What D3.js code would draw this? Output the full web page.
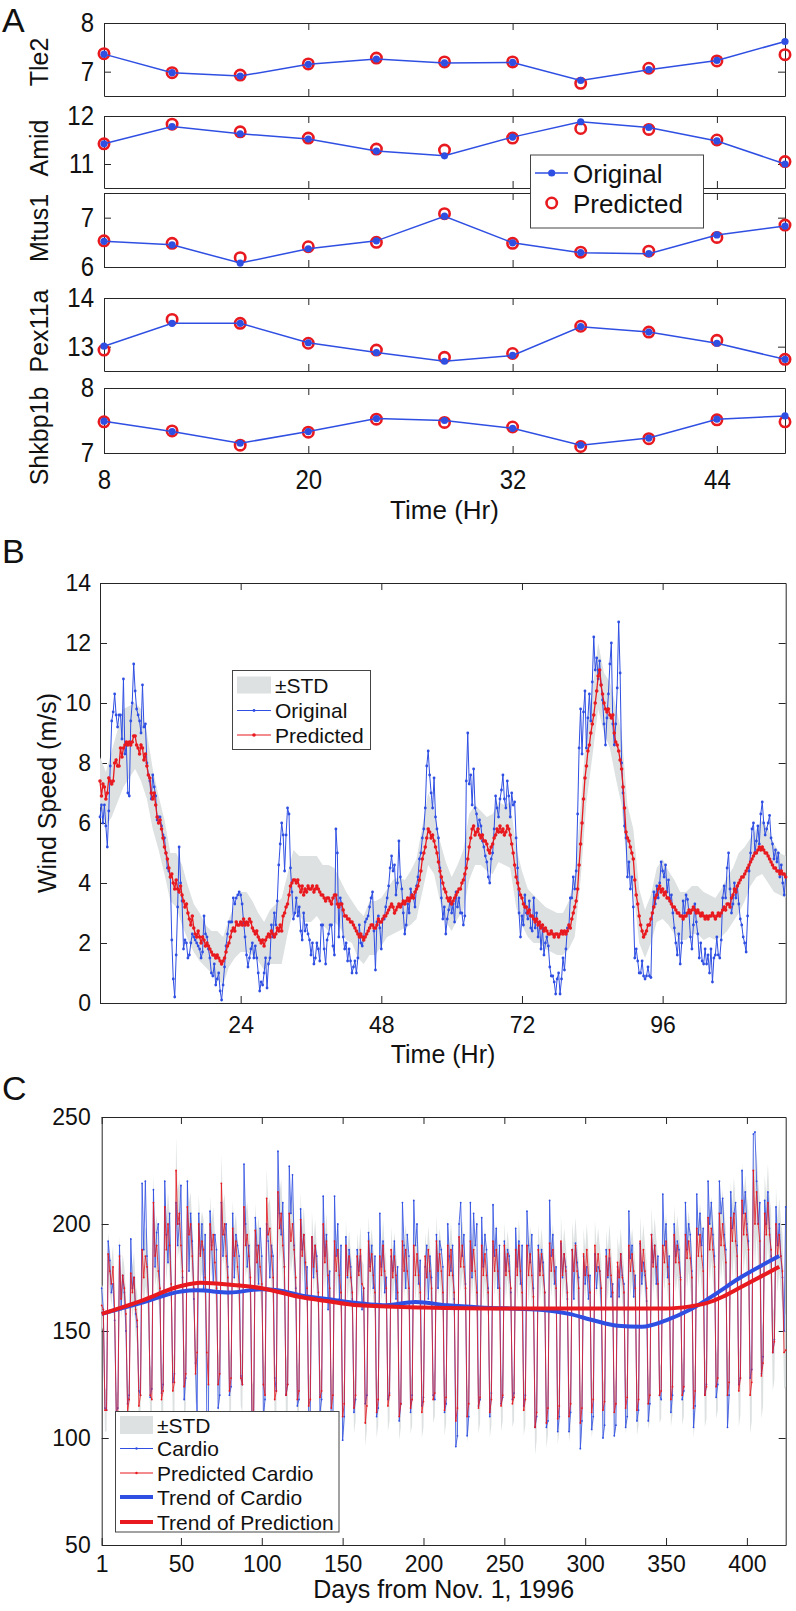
<!DOCTYPE html>
<html>
<head>
<meta charset="utf-8">
<script src="https://cdn.jsdelivr.net/npm/d3@7"></script>
<style>
  body { margin: 0; background: #fff; }
  text { font-family: "Liberation Sans", Arial, Helvetica, sans-serif; fill: #111; }
</style>
</head>
<body>
<svg id="fig" width="796" height="1611"></svg>
<script>
// ---- panel A: gene expression (11 time points) ----
const geneHours = [8, 12, 16, 20, 24, 28, 32, 36, 40, 44, 48];
const geneHourTicks = [8, 20, 32, 44];
const geneNames = ["Tle2", "Amid", "Mtus1", "Pex11a", "Shkbp1b"];
const geneYTicks = [[7, 8], [11, 12], [6, 7], [13, 14], [7, 8]];
const tle2Original = [7.36, 6.98, 6.91, 7.15, 7.26, 7.18, 7.19, 6.82, 7.04, 7.23, 7.62];
const tle2Predicted = [7.37, 6.98, 6.93, 7.16, 7.28, 7.20, 7.20, 6.76, 7.07, 7.22, 7.35];
const amidOriginal = [11.42, 11.78, 11.63, 11.52, 11.27, 11.17, 11.56, 11.88, 11.76, 11.48, 11.00];
const amidPredicted = [11.42, 11.83, 11.67, 11.54, 11.31, 11.29, 11.54, 11.74, 11.72, 11.50, 11.05];
const mtus1Original = [6.52, 6.45, 6.08, 6.37, 6.53, 7.03, 6.49, 6.29, 6.27, 6.65, 6.83];
const mtus1Predicted = [6.53, 6.48, 6.19, 6.41, 6.50, 7.08, 6.48, 6.30, 6.32, 6.60, 6.85];
const pex11aOriginal = [13.01, 13.48, 13.48, 13.08, 12.88, 12.70, 12.82, 13.41, 13.30, 13.07, 12.74];
const pex11aPredicted = [12.93, 13.56, 13.48, 13.07, 12.93, 12.78, 12.86, 13.42, 13.30, 13.13, 12.74];
const shkbp1bOriginal = [7.49, 7.33, 7.15, 7.33, 7.53, 7.50, 7.38, 7.12, 7.23, 7.52, 7.57];
const shkbp1bPredicted = [7.48, 7.34, 7.12, 7.32, 7.52, 7.47, 7.40, 7.10, 7.22, 7.51, 7.48];

// ---- panel B: wind speed, one value every 15 min from hour 0 ----
const windStep = 0.25;
const windTicks = [24, 48, 72, 96];
const windYTicks = [0, 2, 4, 6, 8, 10, 12, 14];
const windOriginal = [
  6.2,6.6,6.0,6.6, 5.9,5.2,6.4,7.9, 9.4,9.7,10.3,9.6, 9.2,9.6,9.6,8.8, 10.8,8.3,8.6,7.0, 6.9,9.4,10.0,11.3,
  10.4,9.8,9.6,9.4, 9.0,10.6,9.2,9.3, 8.0,7.6,7.4,6.8, 7.6,7.2,6.9,6.1, 6.2,6.2,5.9,5.6, 5.5,5.0,4.5,4.4,
  4.2,2.1,0.8,0.2, 1.6,3.2,5.2,4.0, 3.4,1.8,2.1,2.0, 1.5,1.6,2.0,2.3, 2.2,2.1,2.0,1.9, 1.8,1.5,1.7,2.9,
  2.3,2.2,1.8,1.5, 1.0,0.9,1.3,0.6, 0.8,1.0,0.4,0.1, 0.6,1.2,1.9,2.3, 2.7,2.7,2.7,3.5, 3.3,3.5,3.6,3.7,
  3.6,3.3,2.7,2.2, 1.6,1.2,1.5,1.8, 2.0,1.5,1.9,1.5, 1.0,0.4,0.7,0.6, 1.0,1.5,0.5,1.3, 1.5,2.6,2.2,3.0,
  2.6,3.4,4.6,5.3, 6.0,5.6,4.4,5.6, 6.5,6.3,4.5,3.7, 2.8,3.0,3.5,2.9, 3.2,2.4,2.1,3.0, 2.4,2.6,2.3,2.1,
  1.6,2.0,1.3,1.5, 2.0,1.8,1.4,2.6, 2.6,1.8,1.3,2.1, 2.3,2.6,2.6,1.9, 1.6,5.8,5.0,2.2, 3.5,3.3,2.2,1.8,
  2.0,1.4,1.8,1.4, 1.0,1.2,1.4,1.0, 1.5,2.6,2.0,1.9, 2.2,2.7,2.8,2.9, 3.2,3.5,3.7,2.4, 1.1,2.7,2.9,2.5,
  1.8,2.8,2.8,3.2, 3.5,3.9,4.5,4.9, 4.4,4.6,3.6,4.0, 5.4,4.2,3.8,3.0, 2.3,2.6,3.3,3.0, 3.8,3.6,3.5,3.2,
  3.9,4.2,4.8,5.0, 5.5,5.8,6.5,7.9, 8.4,7.6,7.0,6.5, 7.5,6.2,5.8,5.5, 4.5,3.5,2.8,3.2, 2.3,2.8,3.1,3.5,
  3.0,3.3,2.7,3.7, 3.2,3.5,3.0,3.0, 2.6,2.9,7.4,9.0, 7.3,7.6,6.6,7.8, 6.5,6.3,5.8,6.1, 5.9,5.4,5.2,4.9,
  4.7,4.2,4.0,4.8, 5.0,5.8,6.9,6.5, 6.2,6.8,7.1,7.6, 6.8,6.5,7.4,6.9, 6.2,7.0,6.6,6.7, 5.5,4.5,3.0,2.2,
  2.9,2.6,3.6,3.0, 2.8,3.4,2.5,2.4, 3.5,2.5,3.0,2.2, 2.6,1.8,2.5,1.6, 2.0,2.2,1.9,1.2, 0.9,0.9,0.7,0.3,
  0.8,1.0,0.3,0.8, 1.5,1.1,1.8,2.5, 2.5,3.5,3.5,4.2, 3.8,4.4,6.3,8.5, 9.8,8.3,9.7,10.4, 8.5,9.5,10.3,9.4,
  10.7,12.2,11.1,11.5, 10.8,11.4,10.6,10.1, 9.3,8.6,9.5,10.3, 11.3,12.0,9.3,8.6, 9.3,10.5,12.7,11.0, 8.0,7.0,5.9,5.5,
  4.2,4.7,3.8,4.2, 3.2,1.5,1.8,1.4, 1.0,1.0,1.4,0.9, 0.8,0.9,1.2,0.9, 0.85,3.0,3.7,3.3, 3.9,3.5,4.0,4.7,
  4.4,4.2,4.6,3.7, 4.1,3.4,3.6,3.0, 2.5,2.0,1.6,2.3, 1.3,2.0,3.4,3.0, 3.6,3.45,3.0,2.2, 1.8,2.6,3.3,2.7,
  2.3,1.5,2.0,1.4, 1.3,1.8,1.3,1.6, 1.0,1.8,0.7,1.5, 1.6,2.2,1.6,1.5, 2.1,3.5,3.9,3.5, 4.5,5.0,3.8,3.0,
  3.3,4.0,3.5,3.9, 3.3,2.8,2.6,2.2, 2.0,1.7,2.9,4.4, 5.0,5.8,6.0,5.0, 5.4,5.9,5.3,6.3, 6.7,6.0,5.6,5.8,
  6.0,6.25,5.5,5.3, 4.8,5.1,4.7,5.0, 4.2,4.6,4.0,3.6,
  4.2
];
const windPredicted = [
  7.4,6.9,7.3,7.2, 6.8,7.0,7.5,7.4, 7.3,7.4,8.0,8.1, 7.9,7.9,8.5,8.2, 8.5,8.6,8.7,8.6, 8.7,8.6,8.7,8.9,
  8.9,8.6,8.5,8.3, 8.6,8.5,8.1,8.3, 7.9,7.6,7.5,7.0, 6.8,7.0,6.6,6.2, 6.0,6.1,5.8,5.5, 5.2,5.0,4.8,4.5,
  4.2,4.3,4.0,3.8, 4.1,3.8,3.7,3.9, 3.6,3.4,3.2,3.3, 3.0,2.8,2.6,2.9, 2.5,2.3,2.2,2.4, 2.2,2.0,2.2,2.1,
  1.9,2.0,1.9,1.8, 1.7,1.6,1.6,1.5, 1.6,1.5,1.4,1.3, 1.4,1.5,1.7,1.9, 2.0,2.2,2.4,2.5, 2.4,2.7,2.6,2.6,
  2.7,2.6,2.8,2.6, 2.7,2.6,2.8,2.7, 2.5,2.4,2.3,2.4, 2.2,2.1,2.0,2.1, 1.9,2.1,2.2,2.3, 2.2,2.4,2.3,2.2,
  2.3,2.5,2.4,2.6, 2.4,2.9,3.0,3.2, 3.3,3.6,3.9,4.0, 4.1,4.1,4.0,4.1, 3.9,3.7,3.9,3.6, 3.8,3.7,3.9,3.8,
  3.8,3.9,3.7,3.8, 3.9,3.8,3.7,3.6, 3.6,3.5,3.4,3.5, 3.5,3.4,3.3,3.5, 3.6,3.6,3.3,3.2, 3.3,3.3,3.1,2.9,
  2.9,2.8,2.8,2.7, 2.7,2.6,2.5,2.4, 2.3,2.2,2.3,2.2, 2.1,2.2,2.3,2.4, 2.5,2.6,2.6,2.5, 2.5,2.6,2.8,2.7,
  2.7,2.8,2.9,2.9, 3.0,3.1,3.2,3.3, 3.2,3.0,3.1,3.2, 3.3,3.2,3.3,3.4, 3.3,3.4,3.5,3.4, 3.5,3.6,3.5,3.7,
  3.8,3.9,4.1,4.4, 4.8,5.0,5.2,5.5, 5.8,5.7,5.5,5.6, 5.4,5.2,5.0,4.7, 4.4,4.2,4.0,3.8, 3.7,3.5,3.4,3.5,
  3.3,3.4,3.5,3.6, 3.7,3.8,3.8,4.0, 4.1,4.3,4.5,4.8, 5.2,5.5,5.8,5.9, 5.6,5.7,5.8,5.6, 5.5,5.6,5.4,5.4,
  5.3,5.1,5.0,5.2, 5.3,5.5,5.6,5.8, 5.7,5.9,5.7,5.8, 5.6,5.7,5.9,5.8, 5.6,5.3,5.0,4.6, 4.2,4.0,3.8,3.6,
  3.5,3.3,3.2,3.2, 3.0,3.1,2.9,2.9, 2.8,2.7,2.8,2.6, 2.7,2.5,2.6,2.4, 2.5,2.4,2.3,2.3, 2.4,2.3,2.2,2.3,
  2.3,2.2,2.3,2.4, 2.3,2.4,2.3,2.4, 2.6,2.5,2.8,3.0, 3.2,3.4,3.8,4.6, 5.3,6.0,6.8,7.5, 7.9,8.4,8.6,9.0,
  9.3,9.6,10.0,10.4, 10.9,11.1,10.6,10.3, 10.0,9.8,9.7,9.8, 9.6,9.5,9.6,9.0, 8.7,8.6,8.4,8.1, 7.8,7.2,6.5,5.7,
  5.5,5.4,5.2,5.0, 4.8,4.1,3.6,3.3, 2.9,2.6,2.4,2.2, 2.3,2.4,2.6,2.6, 2.8,3.0,3.2,3.5, 3.6,3.8,3.9,3.7,
  3.8,3.6,3.7,3.5, 3.5,3.4,3.3,3.2, 3.2,3.1,3.0,3.0, 2.9,2.9,2.8,2.9, 2.9,3.0,3.1,3.0, 3.1,3.2,3.1,3.0,
  3.1,3.0,2.9,3.0, 2.9,2.8,2.9,2.8, 2.9,2.9,3.0,2.9, 2.8,2.9,3.0,2.9, 3.0,3.1,3.2,3.1, 3.3,3.3,3.2,3.5,
  3.6,3.8,3.7,3.9, 4.0,4.1,4.2,4.2, 4.3,4.4,4.5,4.6, 4.7,4.8,4.9,5.0, 5.0,5.1,5.2,5.1, 5.2,5.1,5.0,5.0,
  4.9,4.8,4.7,4.6, 4.5,4.5,4.4,4.4, 4.3,4.4,4.3,4.3,
  4.2
];
// spread of the prediction, one value per hour
const windStd = [
  0.8,0.9,1.1,1.2,1.3,1.2,1.1,1.2,1.1,1.0,0.9,
  0.9,0.8,0.9,1.0,0.9,0.8,0.8,0.7,0.7,0.8,
  0.8,0.8,0.9,1.0,1.0,0.9,0.8,0.8,0.9,1.0,
  1.1,1.0,1.0,1.0,1.1,1.1,1.0,1.0,1.1,0.9,
  0.8,0.8,0.7,0.8,0.8,0.9,0.9,0.8,0.8,0.9,
  0.9,0.8,0.9,1.0,1.1,1.2,1.1,1.0,1.0,0.9,
  0.9,1.0,1.1,1.0,0.9,0.9,1.0,1.0,1.0,1.1,
  1.0,0.9,0.8,0.8,0.7,0.7,0.7,0.7,0.7,0.8,
  1.0,1.2,1.2,1.1,1.1,1.0,1.1,1.2,1.2,1.1,
  1.0,0.9,0.8,0.8,0.9,1.0,0.9,0.9,0.8,0.8,
  0.8,0.8,0.8,0.7,0.7,0.8,0.9,0.9,1.0,0.9,
  0.8,0.8,0.9,0.9,0.8,0.7,0.7
];

// ---- panel C: daily cardio counts, day 1 .. 424 ----
const cardioXTicks = [1, 50, 100, 150, 200, 250, 300, 350, 400];
const cardioYTicks = [50, 100, 150, 200, 250];
const cardioOriginal = [
  170,160,114,113,
  192,183,168,172,155,112,114, 190,160,176,168,150,116,120, 193,170,175,158,152,122,120,
  219,188,220,185,165,119,123, 216,180,196,200,168,121,125, 220,195,182,205,170,126,130,
  210,190,200,218,175,118,128, 220,178,205,192,165,135,110, 205,186,200,170,195,108,112,
  206,190,172,195,188,114,120, 210,185,195,200,180,120,124, 205,175,195,190,185,129,125,
  228,200,180,190,170,100,110, 203,190,172,198,185,110,118, 200,192,175,190,185,128,122,
  234,205,195,210,180,120,125, 227,205,223,190,170,115,118, 207,188,195,165,180,110,112,
  194,175,190,185,165,112,118, 213,185,195,160,178,99,105,  213,185,200,165,190,99,110,
  194,175,188,180,165,112,118, 188,178,185,160,170,116,120, 196,180,190,170,185,110,114,
  205,180,192,168,175,118,121, 185,178,192,165,180,108,116, 210,190,170,195,185,112,120,
  211,190,200,172,183,115,119, 180,190,165,185,175,120,118, 195,170,192,188,180,112,116,
  200,185,178,190,165,96,101,  200,210,185,195,172,101,110, 210,175,205,190,200,115,118,
  203,180,195,188,170,110,121, 209,185,198,170,190,116,119, 192,178,188,185,168,118,121,
  198,180,192,172,190,115,120, 206,190,182,195,170,105,110, 190,178,188,182,168,105,108,
  211,185,195,172,180,103,110, 191,175,186,180,165,103,112, 188,165,191,182,175,95,108,
  185,172,180,165,176,104,110, 186,170,180,178,160,100,106, 188,175,184,166,172,101,106,
  180,166,186,176,172,105,110, 206,184,190,166,176,108,113, 191,172,182,176,164,108,116,
  195,182,190,172,185,120,118, 214,190,200,175,185,112,120, 200,185,192,188,175,118,122,
  210,188,200,195,178,105,115, 214,195,205,190,198,120,125, 220,200,210,195,185,119,125,
  220,205,212,195,188,105,120, 215,198,205,210,190,125,128, 225,205,215,200,192,128,132,
  242,243,220,200,210,130,138, 211,200,215,198,185,140,146, 208,190,200,185,175,150,208
];
const cardioPredicted = [
  162,160,113,113,
  186,178,172,180,160,111,112, 185,165,176,170,158,112,118, 177,168,175,160,155,115,120,
  188,175,185,180,165,120,118, 210,185,190,178,170,118,122, 208,188,200,190,172,122,126,
  225,200,205,190,178,124,130, 208,195,200,185,170,130,140, 200,185,192,188,175,140,125,
  200,188,195,182,170,125,130, 219,195,200,185,175,122,128, 198,185,192,180,172,128,125,
  208,190,195,185,175,110,112, 197,182,190,180,172,125,120, 212,195,198,185,175,118,122,
  215,198,205,190,180,120,125, 205,192,200,188,175,118,122, 202,185,195,182,170,115,118,
  194,180,190,178,168,119,122, 200,182,192,176,170,114,120, 192,178,188,176,168,110,116,
  190,176,185,175,168,114,120, 185,176,188,172,170,107,115, 192,178,186,176,168,112,118,
  185,176,190,178,170,115,120, 188,175,185,176,168,110,116, 192,178,188,178,170,114,118,
  190,176,186,176,168,112,117, 185,175,188,178,170,118,121, 192,178,186,178,168,113,119,
  190,176,188,176,168,108,114, 194,180,190,180,170,110,116, 192,178,188,178,168,114,119,
  190,176,186,176,168,112,118, 192,178,188,178,170,115,120, 190,176,186,178,170,116,119,
  188,176,190,178,168,113,118, 190,176,186,176,166,105,112, 188,176,186,176,168,107,114,
  191,178,188,178,170,109,115, 192,176,186,178,168,110,116, 188,178,190,178,170,107,114,
  186,176,188,176,168,112,118, 190,178,186,178,170,113,117, 185,176,188,176,168,112,116,
  182,175,186,175,168,114,119, 190,178,186,178,170,113,118, 192,178,188,178,170,116,120,
  195,180,190,180,172,120,122, 190,182,192,180,172,118,124, 195,182,190,182,174,120,124,
  195,184,192,184,175,114,122, 198,185,195,185,178,120,124, 203,188,198,188,180,124,128,
  205,190,200,190,182,120,126, 203,192,205,192,185,122,128, 211,195,205,195,188,120,126,
  225,200,215,200,192,129,135, 205,195,210,195,188,140,145, 200,185,195,185,178,140,141
];
// spread of the prediction: first partial week, then one value per week
const cardioStd = [10,10,10,12,14,14,15,16,15,14, 13,14,13,15,13,14,16,15,13,12,
  13,12,12,11,12,12,11,12,12,11, 12,13,12,12,12,12,11,12,13,12,
  12,12,13,12,12,12,12,12,12,13, 13,14,14,15,15,16,17,18,20,18, 17];
const trendCardioDays = [1, 25, 50, 60, 80, 100, 110, 125, 140, 160, 175, 195, 215, 235, 270, 290, 305, 320, 335, 350, 365, 380, 395, 420];
const trendCardioValues = [158, 163, 168.5, 169, 168, 169.5, 169, 166.5, 165, 163, 162, 163.5, 162, 161, 160, 158, 155, 152.5, 152, 155, 160, 167, 174.5, 185];
const trendPredDays = [1, 25, 50, 62, 82, 100, 123, 140, 160, 200, 250, 300, 350, 365, 375, 385, 395, 420];
const trendPredValues = [158, 164, 171, 172.5, 171.5, 170, 166, 164, 162, 161, 160.5, 160.5, 160.5, 161.5, 163, 166, 170, 180];

// ---------------------------------------------------------------------------
const BLUE = "#2f4fe3", RED = "#e8191f", BAND = "#dde1e1", AX = "#262626";
const svg = d3.select("#fig");
const intFmt = d3.format("d");

function styleAxis(sel, fs, stretch) {
  sel.select(".domain").attr("stroke", AX);
  sel.selectAll(".tick line").attr("stroke", AX);
  const t = sel.selectAll("text").attr("font-family", null).attr("font-size", fs).attr("fill", "#111");
  if (stretch) t.attr("transform", `scale(1,${stretch})`);
}

// box with inward ticks on all four sides (matlab style)
function frame(g, x, y, xTicks, yTicks, o) {
  const [xl, xr] = x.range(), [yb, yt] = y.range();
  const bottom = d3.axisBottom(x).tickValues(xTicks).tickSize(-o.tick).tickSizeOuter(0)
    .tickPadding(o.padX).tickFormat(o.xLabels ? intFmt : "");
  g.append("g").attr("transform", `translate(0,${yb})`).call(bottom).call(styleAxis, o.fs, o.stretch);
  g.append("g").attr("transform", `translate(0,${yt})`)
    .call(d3.axisTop(x).tickValues(xTicks).tickSize(-o.tick).tickSizeOuter(0).tickFormat(""))
    .call(styleAxis, o.fs);
  g.append("g").attr("transform", `translate(${xl},0)`)
    .call(d3.axisLeft(y).tickValues(yTicks).tickSize(-o.tick).tickSizeOuter(0)
      .tickPadding(o.padY).tickFormat(intFmt))
    .call(styleAxis, o.fs, o.stretch);
  g.append("g").attr("transform", `translate(${xr},0)`)
    .call(d3.axisRight(y).tickValues(yTicks).tickSize(-o.tick).tickSizeOuter(0).tickFormat(""))
    .call(styleAxis, o.fs);
}

function label(txt, x, y, fs, opt = {}) {
  const t = svg.append("text").attr("font-size", fs).text(txt)
    .attr("text-anchor", opt.anchor || "start");
  if (opt.rotate) t.attr("transform", `translate(${x},${y}) rotate(-90)`);
  else t.attr("x", x).attr("y", y);
  return t;
}

// ========================= A =========================
label("A", 2, 32, 34);
const xA = d3.scaleLinear().domain([8, 48]).range([104, 785]);
// label centres follow the picture (the last label hangs below its box)
const rowsA = [
  { orig: tle2Original, pred: tle2Predicted, dom: [6.5, 8], top: 23, bot: 96, lab: 62 },
  { orig: amidOriginal, pred: amidPredicted, dom: [10.5, 12], top: 116, bot: 188, lab: 148 },
  { orig: mtus1Original, pred: mtus1Predicted, dom: [6, 7.5], top: 193, bot: 267, lab: 228 },
  { orig: pex11aOriginal, pred: pex11aPredicted, dom: [12.5, 14], top: 298, bot: 371, lab: 331 },
  { orig: shkbp1bOriginal, pred: shkbp1bPredicted, dom: [7, 8], top: 388, bot: 453, lab: 436 }
];
rowsA.forEach((r, k) => {
  const y = d3.scaleLinear().domain(r.dom).range([r.bot, r.top]);
  const g = svg.append("g");
  frame(g, xA, y, geneHourTicks, geneYTicks[k],
    { tick: 7, fs: 24, stretch: 1.12, padX: 15, padY: 10, xLabels: k === rowsA.length - 1 });
  label(geneNames[k], 48, r.lab, 25, { rotate: true, anchor: "middle" });

  g.selectAll(".pred").data(r.pred).join("circle")
    .attr("cx", (d, i) => xA(geneHours[i])).attr("cy", d => y(d))
    .attr("r", 5.2).attr("fill", "none").attr("stroke", RED).attr("stroke-width", 2.6);
  g.append("path").datum(r.orig)
    .attr("d", d3.line().x((d, i) => xA(geneHours[i])).y(d => y(d)))
    .attr("fill", "none").attr("stroke", BLUE).attr("stroke-width", 1.5);
  g.selectAll(".orig").data(r.orig).join("circle")
    .attr("cx", (d, i) => xA(geneHours[i])).attr("cy", d => y(d))
    .attr("r", 3.6).attr("fill", BLUE);
});
label("Time (Hr)", 444.5, 519, 26, { anchor: "middle" });

// legend A
const legA = svg.append("g");
legA.append("rect").attr("x", 530.5).attr("y", 155).attr("width", 173).attr("height", 73)
  .attr("fill", "#fff").attr("stroke", "#444");
legA.append("line").attr("x1", 535).attr("x2", 568).attr("y1", 173).attr("y2", 173)
  .attr("stroke", BLUE).attr("stroke-width", 1.5);
legA.append("circle").attr("cx", 551.7).attr("cy", 173).attr("r", 3.6).attr("fill", BLUE);
legA.append("circle").attr("cx", 551.7).attr("cy", 203).attr("r", 5.2)
  .attr("fill", "none").attr("stroke", RED).attr("stroke-width", 2.6);
legA.append("text").attr("x", 573).attr("y", 183).attr("font-size", 26).text("Original");
legA.append("text").attr("x", 573).attr("y", 213).attr("font-size", 26).text("Predicted");

// ========================= B =========================
label("B", 2, 563, 34);
const xB = d3.scaleLinear().domain([0, 117]).range([100, 785.7]);
const yB = d3.scaleLinear().domain([0, 14]).range([1003, 583]);
const gB = svg.append("g");
frame(gB, xB, yB, windTicks, windYTicks, { tick: 7, fs: 23, padX: 14, padY: 9, xLabels: true });

const tW = i => i * windStep;
const hoursB = d3.range(windStd.length);
gB.append("path").datum(hoursB)
  .attr("d", d3.area()
    .x(h => xB(h))
    .y0(h => yB(windPredicted[Math.round(h / windStep)] - windStd[h]))
    .y1(h => yB(windPredicted[Math.round(h / windStep)] + windStd[h])))
  .attr("fill", BAND);

gB.append("path").datum(windOriginal)
  .attr("d", d3.line().x((d, i) => xB(tW(i))).y(d => yB(d)))
  .attr("fill", "none").attr("stroke", BLUE).attr("stroke-width", 1);
gB.selectAll(".wo").data(windOriginal).join("circle")
  .attr("cx", (d, i) => xB(tW(i))).attr("cy", d => yB(d)).attr("r", 1.4).attr("fill", BLUE);
gB.append("path").datum(windPredicted)
  .attr("d", d3.line().x((d, i) => xB(tW(i))).y(d => yB(d)))
  .attr("fill", "none").attr("stroke", RED).attr("stroke-width", 1.3);
gB.selectAll(".wp").data(windPredicted).join("circle")
  .attr("cx", (d, i) => xB(tW(i))).attr("cy", d => yB(d)).attr("r", 1.8).attr("fill", RED);

label("Wind Speed (m/s)", 56, 793, 25, { rotate: true, anchor: "middle" });
label("Time (Hr)", 443, 1063, 25, { anchor: "middle" });

const legB = svg.append("g");
legB.append("rect").attr("x", 232.5).attr("y", 670.5).attr("width", 138).attr("height", 79)
  .attr("fill", "#fff").attr("stroke", "#444");
legB.append("rect").attr("x", 237).attr("y", 676.5).attr("width", 34).attr("height", 17).attr("fill", BAND);
[[710.5, BLUE, 1.4, "Original"], [735, RED, 1.8, "Predicted"]].forEach(([yy, c, r, t]) => {
  legB.append("line").attr("x1", 237).attr("x2", 271).attr("y1", yy).attr("y2", yy).attr("stroke", c);
  legB.append("circle").attr("cx", 254).attr("cy", yy).attr("r", r).attr("fill", c);
  legB.append("text").attr("x", 275).attr("y", yy + 7.5).attr("font-size", 21).text(t);
});
legB.append("text").attr("x", 275).attr("y", 692.5).attr("font-size", 21).text("\u00b1STD");

// ========================= C =========================
label("C", 2, 1100, 34);
const xC = d3.scaleLinear().domain([1, 424]).range([101.7, 785.7]);
const yC = d3.scaleLinear().domain([50, 250]).range([1545, 1117]);
const gC = svg.append("g");
frame(gC, xC, yC, cardioXTicks, cardioYTicks, { tick: 7, fs: 23, padX: 11, padY: 11, xLabels: true });

const days = d3.range(1, cardioPredicted.length + 1);
const weekOf = d => (d <= 4 ? 0 : 1 + Math.floor((d - 5) / 7));
gC.append("path").datum(days)
  .attr("d", d3.area().x(d => xC(d))
    .y0(d => yC(cardioPredicted[d - 1] - cardioStd[weekOf(d)]))
    .y1(d => yC(cardioPredicted[d - 1] + cardioStd[weekOf(d)])))
  .attr("fill", BAND);

[[cardioOriginal, BLUE], [cardioPredicted, RED]].forEach(([arr, c]) => {
  gC.append("path").datum(arr)
    .attr("d", d3.line().x((d, i) => xC(i + 1)).y(d => yC(d)))
    .attr("fill", "none").attr("stroke", c).attr("stroke-width", 0.9).attr("stroke-opacity", 0.9);
  gC.append("g").selectAll("circle").data(arr).join("circle")
    .attr("cx", (d, i) => xC(i + 1)).attr("cy", d => yC(d)).attr("r", 0.9).attr("fill", c);
});

const trendLine = days => d3.line().curve(d3.curveMonotoneX)
  .x((v, i) => xC(days[i])).y(v => yC(v));
gC.append("path").datum(trendCardioValues).attr("d", trendLine(trendCardioDays))
  .attr("fill", "none").attr("stroke", BLUE).attr("stroke-width", 4);
gC.append("path").datum(trendPredValues).attr("d", trendLine(trendPredDays))
  .attr("fill", "none").attr("stroke", RED).attr("stroke-width", 4);

label("Days from Nov. 1, 1996", 443.7, 1598, 25, { anchor: "middle" });

const legC = svg.append("g");
legC.append("rect").attr("x", 115.5).attr("y", 1411.5).attr("width", 223.5).attr("height", 120.5)
  .attr("fill", "#fff").attr("stroke", "#444");
legC.append("rect").attr("x", 120).attr("y", 1416).attr("width", 33).attr("height", 18).attr("fill", BAND);
const legCItems = [
  [1448.5, BLUE, 1, "Cardio", true],
  [1473, RED, 1, "Predicted Cardio", true],
  [1497, BLUE, 4, "Trend of Cardio", false],
  [1522, RED, 4, "Trend of Prediction", false]
];
legCItems.forEach(([yy, c, w, t, dot]) => {
  legC.append("line").attr("x1", 120).attr("x2", 153).attr("y1", yy).attr("y2", yy)
    .attr("stroke", c).attr("stroke-width", w);
  if (dot) legC.append("circle").attr("cx", 136.5).attr("cy", yy).attr("r", 1.2).attr("fill", c);
  legC.append("text").attr("x", 157).attr("y", yy + 7.5).attr("font-size", 21).text(t);
});
legC.append("text").attr("x", 157).attr("y", 1432.5).attr("font-size", 21).text("\u00b1STD");
</script>
</body>
</html>
